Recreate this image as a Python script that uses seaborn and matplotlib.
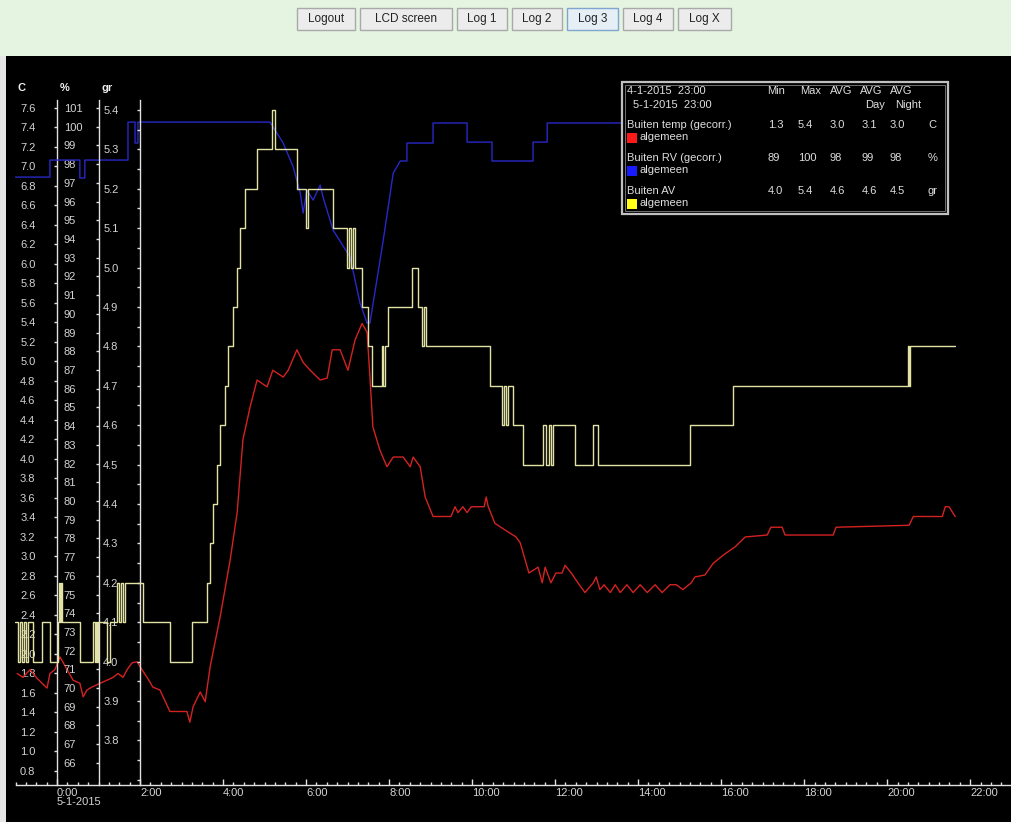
"""
Buiten temp / RV / AV logger chart (Log 3 screen) rebuilt with seaborn.
"""
import numpy as np
import pandas as pd
import matplotlib
matplotlib.use("Agg")
import matplotlib.pyplot as plt
import seaborn as sns
from matplotlib.patches import Rectangle
from matplotlib.ticker import FixedLocator, MultipleLocator

sns.set_theme(style="dark", rc={"axes.facecolor": "black", "figure.facecolor": "black"})
plt.rcParams['font.family'] = ['Liberation Sans', 'DejaVu Sans']

# --- data: hours since 5-1-2015 0:00 ---
temp_hours = [-0.96, -0.82, -0.65, -0.48, -0.36, -0.24, -0.17, -0.05, 0.07, 0.14,
              0.24, 0.39, 0.55, 0.63, 0.72, 0.84, 1.04, 1.20, 1.35, 1.47,
              1.59, 1.69, 1.81, 1.93, 2.00, 2.17, 2.31, 2.48, 2.72, 3.13,
              3.20, 3.28, 3.45, 3.57, 3.69, 3.93, 4.17, 4.34, 4.48, 4.65,
              4.82, 5.06, 5.20, 5.45, 5.57, 5.78, 5.93, 6.10, 6.34, 6.51,
              6.63, 6.82, 7.01, 7.18, 7.35, 7.47, 7.54, 7.61, 7.78, 7.95,
              8.10, 8.34, 8.51, 8.58, 8.75, 8.87, 9.06, 9.49, 9.59, 9.66,
              9.78, 9.88, 9.98, 10.29, 10.34, 10.39, 10.55, 10.80, 11.06, 11.16,
              11.37, 11.59, 11.69, 11.76, 11.90, 12.02, 12.17, 12.24, 12.39, 12.55,
              12.72, 12.92, 12.99, 13.08, 13.18, 13.33, 13.45, 13.57, 13.73, 13.88,
              14.05, 14.22, 14.41, 14.58, 14.77, 14.92, 15.08, 15.28, 15.37, 15.61,
              15.81, 16.07, 16.34, 16.58, 17.11, 17.20, 17.47, 17.54, 18.70, 18.77,
              20.53, 20.63, 21.33, 21.40, 21.49, 21.64]
temp_c = [1.80, 1.76, 1.84, 1.75, 1.70, 1.65, 1.80, 1.84, 1.97, 1.92,
          1.84, 1.73, 1.70, 1.56, 1.63, 1.66, 1.70, 1.73, 1.76, 1.80,
          1.76, 1.84, 1.91, 1.92, 1.87, 1.76, 1.66, 1.63, 1.41, 1.41,
          1.30, 1.46, 1.61, 1.51, 1.87, 2.38, 2.96, 3.45, 4.20, 4.53,
          4.81, 4.74, 4.91, 4.84, 4.91, 5.12, 4.99, 4.91, 4.81, 4.83,
          5.12, 5.12, 4.91, 5.22, 5.39, 5.30, 4.84, 4.33, 4.09, 3.92,
          4.02, 4.02, 3.92, 4.02, 3.92, 3.61, 3.41, 3.41, 3.51, 3.45,
          3.51, 3.45, 3.51, 3.51, 3.61, 3.51, 3.34, 3.27, 3.20, 3.14,
          2.83, 2.89, 2.73, 2.89, 2.73, 2.83, 2.83, 2.91, 2.83, 2.73,
          2.63, 2.73, 2.79, 2.66, 2.71, 2.63, 2.71, 2.63, 2.71, 2.63,
          2.71, 2.63, 2.71, 2.63, 2.71, 2.71, 2.66, 2.73, 2.79, 2.81,
          2.93, 3.02, 3.10, 3.20, 3.22, 3.30, 3.30, 3.22, 3.22, 3.30,
          3.32, 3.41, 3.41, 3.51, 3.51, 3.41]

rv_hours = [-1.01, -0.17, -0.17, 0.55, 0.55, 0.67, 0.67, 1.71, 1.71, 1.88,
            1.88, 1.95, 1.95, 5.13, 5.45, 5.69, 5.86, 5.93, 6.02, 6.17,
            6.34, 6.41, 6.65, 7.06, 7.30, 7.47, 7.54, 7.86, 8.10, 8.27,
            8.43, 8.43, 9.06, 9.06, 9.88, 9.88, 10.48, 10.48, 11.47, 11.47,
            11.81, 11.81, 21.35]
rv_pct = [97.31, 97.31, 98.22, 98.22, 97.26, 97.26, 98.22, 98.22, 100.25, 100.25,
          99.13, 99.13, 100.25, 100.25, 99.13, 97.85, 96.46, 95.39, 96.62, 96.08,
          96.88, 96.24, 94.48, 93.04, 90.58, 89.51, 89.51, 93.94, 97.52, 98.17,
          98.17, 99.13, 99.13, 100.20, 100.20, 99.18, 99.18, 98.17, 98.17, 99.18,
          99.18, 100.20, 100.20]

av_hours = [-1.01, -0.94, -0.89, -0.84, -0.80, -0.75, -0.70, -0.58, -0.36, -0.17,
            0.02, 0.05, 0.07, 0.10, 0.12, 0.55, 0.87, 0.92, 0.94, 0.96,
            0.99, 1.20, 1.28, 1.45, 1.49, 1.54, 1.59, 1.64, 2.07, 2.72,
            3.25, 3.61, 3.69, 3.76, 3.86, 3.93, 4.05, 4.12, 4.24, 4.34,
            4.41, 4.53, 4.82, 5.18, 5.25, 5.78, 6.00, 6.05, 6.65, 6.99,
            7.04, 7.08, 7.13, 7.18, 7.35, 7.49, 7.59, 7.83, 7.86, 7.90,
            7.98, 8.55, 8.70, 8.80, 8.84, 8.89, 10.43, 10.72, 10.77, 10.82,
            10.87, 10.99, 11.23, 11.71, 11.78, 11.86, 11.90, 11.95, 12.48, 12.92,
            13.04, 15.25, 16.29, 20.51, 20.53, 20.55, 21.64]
av_gr = [4.1, 4.0, 4.1, 4.0, 4.1, 4.0, 4.1, 4.0, 4.1, 4.0,
         4.1, 4.2, 4.1, 4.2, 4.1, 4.0, 4.1, 4.0, 4.1, 4.0,
         4.1, 4.0, 4.1, 4.2, 4.1, 4.2, 4.1, 4.2, 4.1, 4.0,
         4.1, 4.2, 4.3, 4.4, 4.5, 4.6, 4.7, 4.8, 4.9, 5.0,
         5.1, 5.2, 5.3, 5.4, 5.3, 5.2, 5.1, 5.2, 5.1, 5.0,
         5.1, 5.0, 5.1, 5.0, 4.9, 4.8, 4.7, 4.8, 4.7, 4.8,
         4.9, 5.0, 4.9, 4.8, 4.9, 4.8, 4.7, 4.6, 4.7, 4.6,
         4.7, 4.6, 4.5, 4.6, 4.5, 4.6, 4.5, 4.6, 4.5, 4.6,
         4.5, 4.6, 4.7, 4.8, 4.7, 4.8, 4.8]

# tick labels / legend table
hour_ticks = [0, 2, 4, 6, 8, 10, 12, 14, 16, 18, 20, 22]
hour_labels = ["0:00\n5-1-2015", "2:00", "4:00", "6:00", "8:00", "10:00", "12:00",
               "14:00", "16:00", "18:00", "20:00", "22:00"]
c_ticks = [round(0.8 + 0.2 * i, 1) for i in range(35)]
pct_ticks = list(range(66, 102))
gr_ticks = [round(3.8 + 0.1 * i, 1) for i in range(17)]

series_names = ["Buiten temp (gecorr.)", "Buiten RV (gecorr.)", "Buiten AV"]
series_min = ["1.3", "89", "4.0"]
series_max = ["5.4", "100", "5.4"]
series_avg = ["3.0", "98", "4.6"]
series_day = ["3.1", "99", "4.6"]
series_night = ["3.0", "98", "4.5"]
series_units = ["C", "%", "gr"]
buttons = ["Logout", "LCD screen", "Log 1", "Log 2", "Log 3", "Log 4", "Log X"]

RED = "#d42222"
BLUE = "#2828c8"
YEL = "#e2e2a4"
AXIS_COL = "#e0e0e0"
TXT_COL = "#d4d4d4"

W, H = 1011, 822


def fx(px):
    return px / W


def fy(py):
    return 1 - py / H


fig = plt.figure(figsize=(W / 100, H / 100), dpi=100, facecolor="black")

ax_c = fig.add_axes([fx(15.5), fy(785), (1010 - 15.5) / W, (785 - 100) / H])
ax_pct = ax_c.twinx()
ax_gr = ax_c.twinx()

temp_df = pd.DataFrame({"hour": temp_hours, "value": temp_c})
rv_df = pd.DataFrame({"hour": rv_hours, "value": rv_pct})
av_df = pd.DataFrame({"hour": av_hours, "value": av_gr})

sns.lineplot(data=temp_df, x="hour", y="value", ax=ax_c, color=RED, lw=1.0,
             estimator=None, sort=False)
sns.lineplot(data=rv_df, x="hour", y="value", ax=ax_pct, color=BLUE, lw=1.0,
             estimator=None, sort=False)
sns.lineplot(data=av_df, x="hour", y="value", ax=ax_gr, color=YEL, lw=1.0,
             estimator=None, sort=False, drawstyle="steps-post")

ax_c.set_xlim(-1.0, 22.96)
ax_c.set_ylim(0.656, 7.682)
ax_pct.set_ylim(64.82, 101.43)
ax_gr.set_ylim(3.687, 5.425)

for a in (ax_c, ax_pct, ax_gr):
    a.set_facecolor("none")
    a.grid(False)
    a.set_xlabel("")
    a.set_ylabel("")
    for sp in a.spines.values():
        sp.set_visible(False)

# three y axes sitting on 0:00, 1:00 and 2:00
for a, xpos in ((ax_c, 0), (ax_pct, 1), (ax_gr, 2)):
    a.yaxis.set_ticks_position("left")
    a.yaxis.set_label_position("left")
    sp = a.spines["left"]
    sp.set_visible(True)
    sp.set_position(("data", xpos))
    sp.set_color(AXIS_COL)
    sp.set_linewidth(1.0)

ax_c.spines["bottom"].set_visible(True)
ax_c.spines["bottom"].set_color(AXIS_COL)
ax_c.spines["bottom"].set_linewidth(1.0)

ax_c.yaxis.set_major_locator(FixedLocator(c_ticks))
ax_c.set_yticklabels([f"{v:.1f}" for v in c_ticks])
ax_c.tick_params(axis="y", direction="out", length=2.5, width=1, color=AXIS_COL,
                 labelcolor=TXT_COL, labelsize=8, pad=13)

ax_pct.yaxis.set_major_locator(FixedLocator(pct_ticks))
ax_pct.set_yticklabels([str(v) for v in pct_ticks])
ax_pct.tick_params(axis="y", direction="out", length=2.5, width=1, color=AXIS_COL,
                   labelcolor=TXT_COL, labelsize=8, pad=22.5)
plt.setp(ax_pct.get_yticklabels(), ha="left")

ax_gr.yaxis.set_major_locator(FixedLocator(gr_ticks))
ax_gr.yaxis.set_minor_locator(MultipleLocator(0.05))
ax_gr.set_yticklabels([f"{v:.1f}" for v in gr_ticks])
ax_gr.tick_params(axis="y", which="both", direction="out", length=2.5, width=1,
                  color=AXIS_COL, labelcolor=TXT_COL, labelsize=8, pad=24)
plt.setp(ax_gr.get_yticklabels(), ha="left")

ax_c.xaxis.set_ticks_position("bottom")
ax_c.xaxis.set_major_locator(FixedLocator(hour_ticks))
ax_c.xaxis.set_minor_locator(MultipleLocator(0.25))
ax_c.set_xticklabels(hour_labels)
ax_c.tick_params(axis="x", which="major", direction="in", length=4.5, width=1,
                 color=AXIS_COL, labelcolor=TXT_COL, labelsize=8, pad=2)
ax_c.tick_params(axis="x", which="minor", direction="in", length=2.2, width=1,
                 color=AXIS_COL)
for lab in ax_c.get_xticklabels():
    lab.set_horizontalalignment("left")
    lab.set_linespacing(0.95)

# axis headers
for txt, px in (("C", 18), ("%", 60), ("gr", 102)):
    fig.text(fx(px), fy(88), txt, color="#f0f0f0", fontsize=8, fontweight="bold",
             va="center", ha="left")

# top page band with buttons and left page edge
fig.add_artist(Rectangle((0, fy(56)), 1, 56 / H, transform=fig.transFigure,
                         fc="#e4f4e0", ec="none", zorder=1))
fig.add_artist(Rectangle((0, 0), fx(6), fy(56), transform=fig.transFigure,
                         fc="#e6e6e6", ec="none", zorder=1))
button_x = [(297, 355), (360, 452), (457, 507), (512, 562), (567, 618), (623, 673), (678, 731)]
for name, (x0, x1) in zip(buttons, button_x):
    active = name == "Log 3"
    fig.add_artist(Rectangle((fx(x0), fy(30)), (x1 - x0) / W, 22 / H,
                             transform=fig.transFigure,
                             fc="#e6eef6" if active else "#ececec",
                             ec="#7ea6cf" if active else "#a9a9a9", lw=1.0, zorder=2))
    fig.text(fx((x0 + x1) / 2), fy(19), name, color="#222222", fontsize=8.5,
             ha="center", va="center", zorder=3)

# statistics box (drawn over the lines)
fig.add_artist(Rectangle((fx(622), fy(214)), (948 - 622) / W, (214 - 82) / H,
                         transform=fig.transFigure, fc="black", ec="#c0c0c0",
                         lw=1.6, zorder=5))
fig.add_artist(Rectangle((fx(625), fy(211)), (945 - 625) / W, (211 - 85) / H,
                         transform=fig.transFigure, fc="none", ec="#707070",
                         lw=0.7, zorder=5))

LEG_COL = "#dedede"


def box_text(px, py, s, ha="left"):
    fig.text(fx(px), fy(py), s, color=LEG_COL, fontsize=8, ha=ha, va="center", zorder=6)


box_text(627, 91, "4-1-2015  23:00")
box_text(633, 105, "5-1-2015  23:00")
for s, px in (("Min", 767), ("Max", 800), ("AVG", 830), ("AVG", 860), ("AVG", 890)):
    box_text(px, 91, s)
box_text(865, 105, "Day")
box_text(895, 105, "Night")

row_y = [125, 158, 191]
colors = ["#ff1a1a", "#1a1aff", "#ffff1a"]
for i in range(3):
    y = row_y[i]
    box_text(627, y, series_names[i])
    for s, px in ((series_min[i], 768), (series_max[i], 798), (series_avg[i], 830),
                  (series_day[i], 862), (series_night[i], 890), (series_units[i], 928)):
        box_text(px, y, s)
    fig.add_artist(Rectangle((fx(627), fy(y + 18)), 10 / W, 10 / H,
                             transform=fig.transFigure, fc=colors[i], ec="none", zorder=6))
    box_text(639, y + 12, "algemeen")

fig.savefig("out.png", dpi=100, facecolor=fig.get_facecolor())
